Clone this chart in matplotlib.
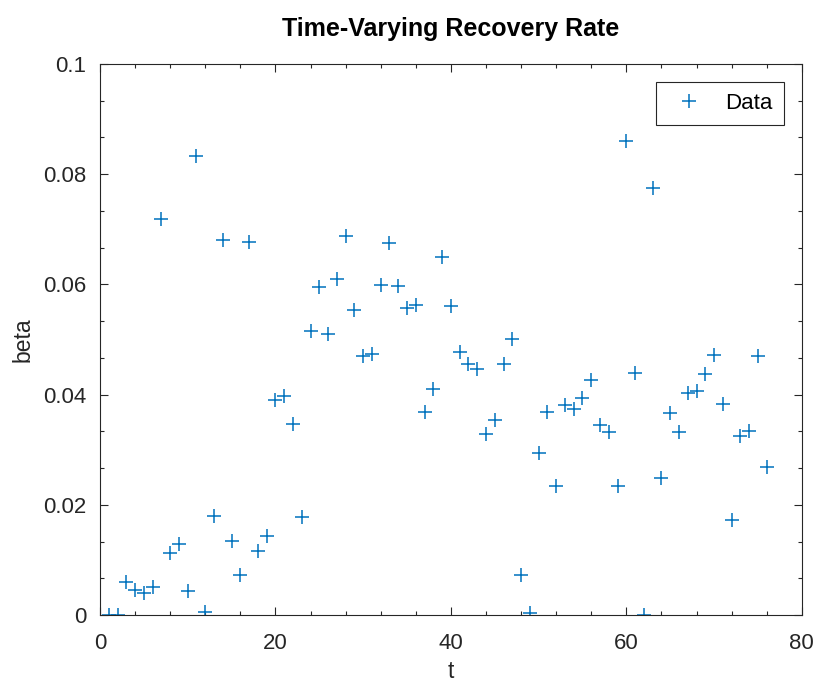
import matplotlib
matplotlib.use('Agg')
import matplotlib.pyplot as plt
from matplotlib.ticker import AutoMinorLocator

plt.rcParams['font.family'] = ['Liberation Sans', 'DejaVu Sans']

# day index and estimated rate
t = list(range(1, 77))
beta = [0.0, 0.0, 0.0060, 0.0045, 0.0040, 0.0050, 0.0718, 0.0113, 0.0128, 0.0043,
        0.0833, 0.0005, 0.0180, 0.0680, 0.0135, 0.0072, 0.0677, 0.0116, 0.0144, 0.0390,
        0.0398, 0.0347, 0.0178, 0.0516, 0.0596, 0.0510, 0.0609, 0.0687, 0.0554, 0.0470,
        0.0473, 0.0598, 0.0675, 0.0597, 0.0557, 0.0562, 0.0369, 0.0411, 0.0650, 0.0560,
        0.0478, 0.0456, 0.0446, 0.0329, 0.0354, 0.0455, 0.0501, 0.0072, 0.0004, 0.0294,
        0.0368, 0.0234, 0.0382, 0.0373, 0.0394, 0.0427, 0.0344, 0.0333, 0.0234, 0.0860,
        0.0440, 0.0, 0.0775, 0.0249, 0.0367, 0.0332, 0.0403, 0.0407, 0.0438, 0.0472,
        0.0383, 0.0172, 0.0325, 0.0334, 0.0470, 0.0268]

axc = '#262626'

fig = plt.figure(figsize=(8.17, 6.82), dpi=100)
ax = fig.add_axes([0.1224, 0.0982, 0.859, 0.808])

ax.plot(t, beta, '+', color='#0072BD', markersize=10, markeredgewidth=1.1, label='Data')

ax.set_xlim(0, 80)
ax.set_ylim(0, 0.1)
ax.set_xticks([0, 20, 40, 60, 80])
ax.set_yticks([0, 0.02, 0.04, 0.06, 0.08, 0.1])
ax.set_yticklabels(['0', '0.02', '0.04', '0.06', '0.08', '0.1'])
ax.xaxis.set_minor_locator(AutoMinorLocator(5))
ax.yaxis.set_minor_locator(AutoMinorLocator(3))

ax.tick_params(which='both', direction='in', top=True, right=True, colors=axc,
               labelsize=16, width=0.8)
ax.tick_params(which='major', length=6)
ax.tick_params(which='minor', length=3)
ax.tick_params(axis='x', which='major', pad=13)
ax.tick_params(axis='y', which='major', pad=10)
for s in ax.spines.values():
    s.set_color(axc)
    s.set_linewidth(0.8)

ax.set_xlabel('t', fontsize=16.5, color=axc, labelpad=4)
ax.set_ylabel('beta', fontsize=16.5, color=axc, labelpad=6)
ax.set_title('Time-Varying Recovery Rate', fontsize=18, fontweight='bold', pad=20)

leg = ax.legend(loc='upper right', fontsize=16, fancybox=False, framealpha=1,
                edgecolor=axc, borderaxespad=0.8, handlelength=2.0, borderpad=0.5,
                handletextpad=0.65)
leg.get_frame().set_linewidth(0.8)

fig.savefig('out.png', dpi=100)
